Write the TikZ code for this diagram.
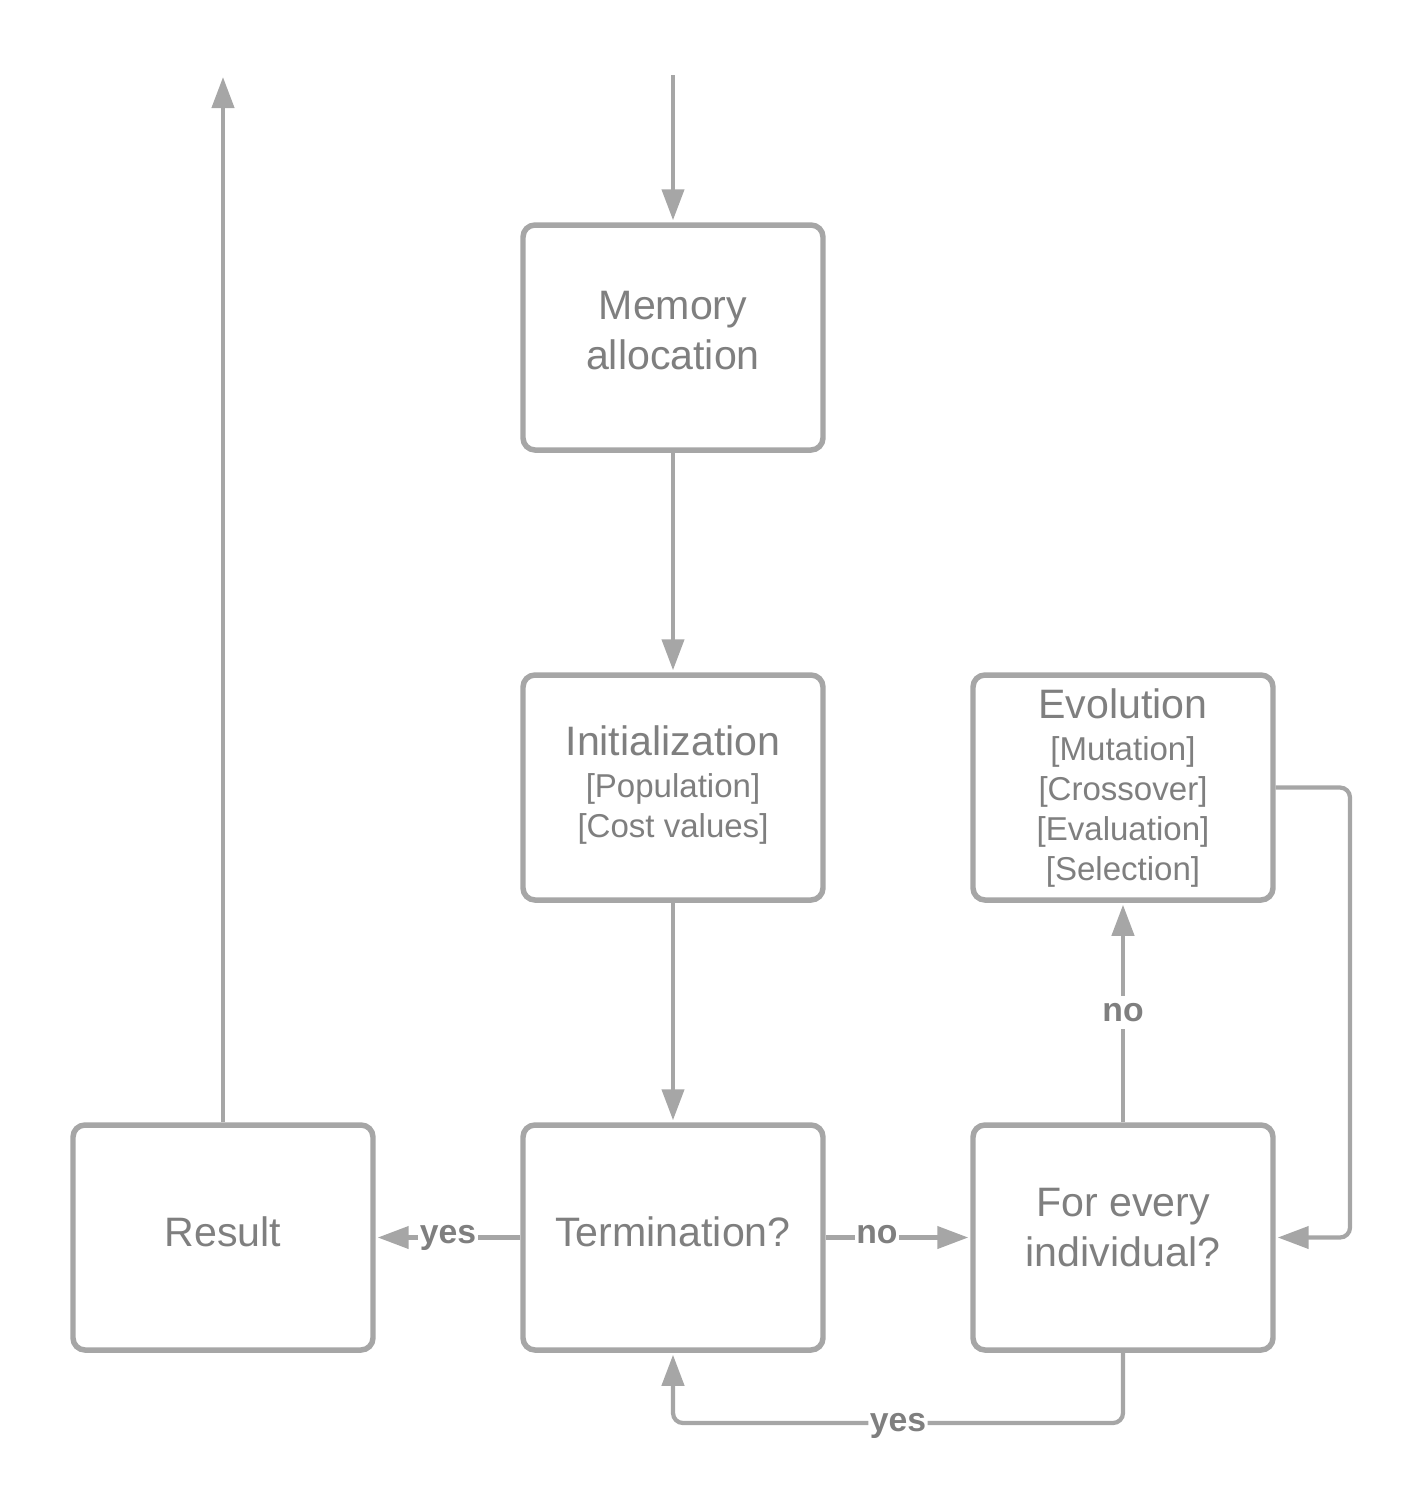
\documentclass[tikz,border=0pt]{standalone}
\usepackage{fontspec}
\setmainfont{Liberation Sans}
\usetikzlibrary{arrows.meta}
\definecolor{linegray}{HTML}{A6A6A6}
\definecolor{textgray}{HTML}{7F7F7F}
\begin{document}
\begin{tikzpicture}[
  box/.style={draw=linegray, line width=1.56pt, rounded corners=0.12cm, minimum width=3cm, minimum height=2.25cm, fill=white},
  big/.style={text=textgray, font=\fontsize{11.7}{14}\selectfont, anchor=base, inner sep=0pt},
  small/.style={text=textgray, font=\fontsize{9.4}{11.3}\selectfont, anchor=base, inner sep=0pt},
  conn/.style={draw=linegray, line width=1.2pt},
  arr/.style={conn, -{Triangle[length=0.31cm,width=0.22cm]}, shorten >=0.02cm},
  lbl/.style={text=textgray, font=\bfseries\fontsize{9.6}{11.5}\selectfont, fill=white, inner xsep=0.4pt, inner ysep=2pt, anchor=base}
]
\useasboundingbox (0,0) rectangle (14.27,-15);

% boxes
\node[box] (mem)  at (6.73,-3.375) {};
\node[box] (init) at (6.73,-7.875) {};
\node[box] (evo)  at (11.23,-7.875) {};
\node[box] (res)  at (2.23,-12.375) {};
\node[box] (term) at (6.73,-12.375) {};
\node[box] (for)  at (11.23,-12.375) {};

% texts
\node[big] (memA) at (6.73,-3.19) {Memory};
\node[big] (memB) at (6.73,-3.69) {allocation};

\node[big]   (initA) at (6.73,-7.55) {Initialization};
\node[small] (initB) at (6.73,-7.97) {[Population]};
\node[small] (initC) at (6.73,-8.37) {[Cost values]};

\node[big]   (evoA) at (11.23,-7.18) {Evolution};
\node[small] (evoB) at (11.23,-7.60) {[Mutation]};
\node[small] (evoC) at (11.23,-8.00) {[Crossover]};
\node[small] (evoD) at (11.23,-8.40) {[Evaluation]};
\node[small] (evoE) at (11.23,-8.80) {[Selection]};

\node[big] (resA)  at (2.23,-12.46) {Result};
\node[big] (termA) at (6.73,-12.46) {Termination?};
\node[big] (forA)  at (11.23,-12.16) {For every};
\node[big] (forB)  at (11.23,-12.66) {individual?};

% coordinates
\coordinate (top) at (6.73,-0.75);
\coordinate (out) at (2.23,-0.75);
\coordinate (r1) at (13.5,-7.875);
\coordinate (r2) at (13.5,-12.375);
\coordinate (b1) at (11.23,-14.23);
\coordinate (b2) at (6.73,-14.23);

% connectors
\draw[arr] (top) -- (mem.north);
\draw[arr] (mem.south) -- (init.north);
\draw[arr] (init.south) -- (term.north);
\draw[arr] (res.north) -- (out);
\draw[arr] (term.west) -- node[lbl, pos=0.5, yshift=-0.06cm] (lyes1) {yes} (res.east);
\draw[arr] (term.east) -- node[lbl, pos=0.354, yshift=-0.06cm] (lno1) {no} (for.west);
\draw[arr] (for.north) -- node[lbl, pos=0.46] (lno2) {no} (evo.south);
\draw[arr, rounded corners=0.1cm] (evo.east) -- (r1) -- (r2) -- (for.east);
\draw[arr, rounded corners=0.1cm] (for.south) -- (b1) -- node[lbl, yshift=-0.08cm] (lyes2) {yes} (b2) -- (term.south);
\end{tikzpicture}
\end{document}
